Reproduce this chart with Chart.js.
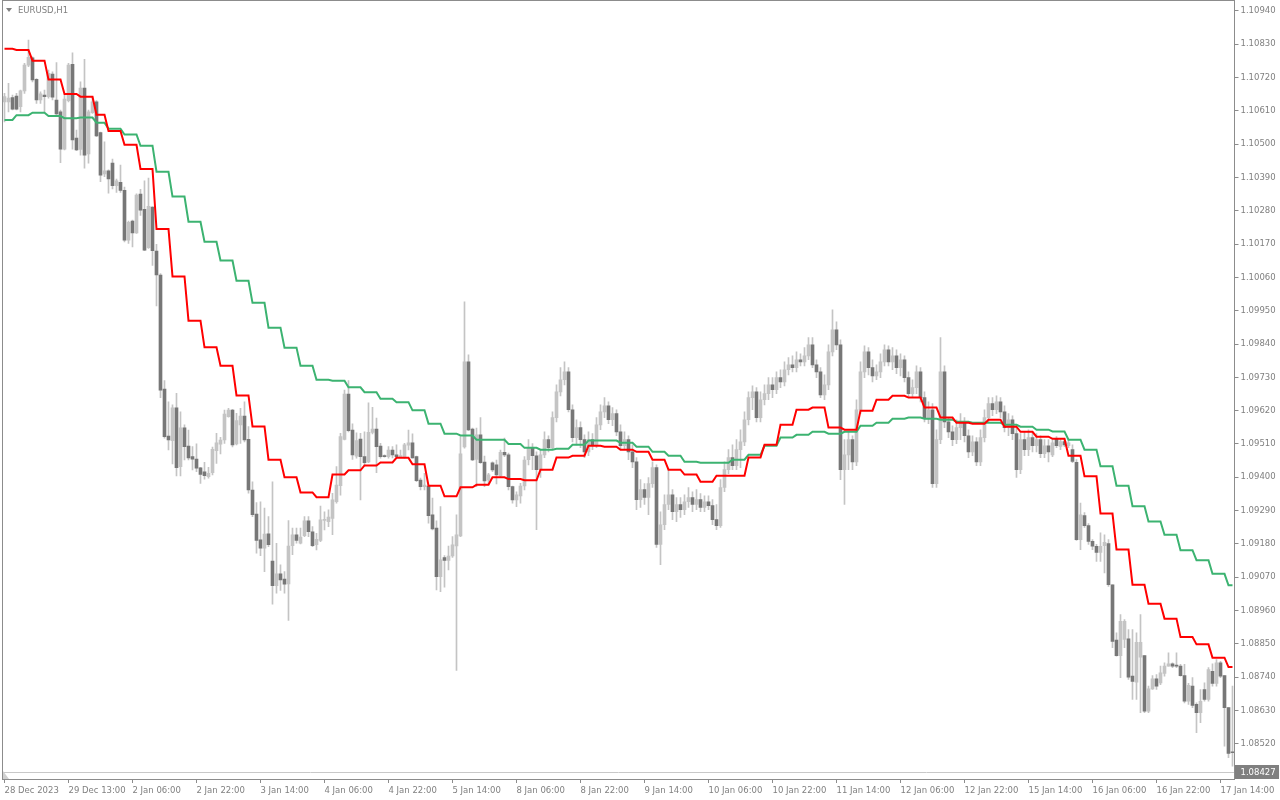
<!DOCTYPE html>
<html>
<head>
<meta charset="utf-8">
<title>EURUSD,H1</title>
<script src="https://cdn.jsdelivr.net/npm/chart.js@4.4.1/dist/chart.umd.min.js"></script>
<style>
  html, body { margin: 0; padding: 0; background: #ffffff; }
  canvas { display: block; }
</style>
</head>
<body>
<canvas id="chart" width="1280" height="800"></canvas>
<script>
var symbol = 'EURUSD,H1'
var bid = 1.08427

// one label every 16 hourly bars
var timeLabels = ['28 Dec 2023', '29 Dec 13:00', '2 Jan 06:00', '2 Jan 22:00', '3 Jan 14:00',
  '4 Jan 06:00', '4 Jan 22:00', '5 Jan 14:00', '8 Jan 06:00', '8 Jan 22:00', '9 Jan 14:00',
  '10 Jan 06:00', '10 Jan 22:00', '11 Jan 14:00', '12 Jan 06:00', '12 Jan 22:00', '15 Jan 14:00',
  '16 Jan 06:00', '16 Jan 22:00', '17 Jan 14:00']

var priceTicks = [1.10940, 1.10830, 1.10720, 1.10610, 1.10500, 1.10390, 1.10280, 1.10170,
  1.10060, 1.09950, 1.09840, 1.09730, 1.09620, 1.09510, 1.09400, 1.09290, 1.09180, 1.09070,
  1.08960, 1.08850, 1.08740, 1.08630, 1.08520, 1.08410]

var open = [
  1.10640, 1.10640, 1.10654, 1.10659, 1.10624, 1.10676, 1.10761, 1.10785, 1.10714, 1.10646, 1.10662, 1.10657, 1.10732, 1.10646, 1.10607, 1.10484,
  1.10644, 1.10764, 1.10520, 1.10483, 1.10685, 1.10468, 1.10604, 1.10640, 1.10538, 1.10402, 1.10412, 1.10438, 1.10363, 1.10374, 1.10348, 1.10183,
  1.10246, 1.10207, 1.10335, 1.10285, 1.10158, 1.10292, 1.10147, 1.10068, 1.09691, 1.09536, 1.09521, 1.09629, 1.09435, 1.09563, 1.09503, 1.09468,
  1.09460, 1.09431, 1.09418, 1.09402, 1.09415, 1.09488, 1.09509, 1.09523, 1.09600, 1.09622, 1.09510, 1.09573, 1.09602, 1.09525, 1.09358, 1.09278,
  1.09193, 1.09166, 1.09213, 1.09123, 1.09042, 1.09081, 1.09064, 1.09048, 1.09174, 1.09210, 1.09182, 1.09207, 1.09256, 1.09220, 1.09177, 1.09191,
  1.09257, 1.09253, 1.09264, 1.09319, 1.09372, 1.09525, 1.09675, 1.09556, 1.09470, 1.09526, 1.09468, 1.09451, 1.09548, 1.09559, 1.09503, 1.09470,
  1.09468, 1.09490, 1.09474, 1.09468, 1.09468, 1.09506, 1.09514, 1.09468, 1.09391, 1.09369, 1.09371, 1.09276, 1.09232, 1.09072, 1.09135, 1.09125,
  1.09140, 1.09173, 1.09206, 1.09500, 1.09781, 1.09559, 1.09459, 1.09540, 1.09450, 1.09391, 1.09448, 1.09441, 1.09405, 1.09482, 1.09474, 1.09369,
  1.09325, 1.09338, 1.09371, 1.09458, 1.09498, 1.09471, 1.09425, 1.09474, 1.09524, 1.09498, 1.09597, 1.09682, 1.09722, 1.09748, 1.09623, 1.09531,
  1.09564, 1.09524, 1.09484, 1.09524, 1.09504, 1.09573, 1.09616, 1.09636, 1.09590, 1.09610, 1.09550, 1.09504, 1.09524, 1.09484, 1.09451, 1.09326,
  1.09359, 1.09333, 1.09379, 1.09432, 1.09178, 1.09243, 1.09310, 1.09342, 1.09286, 1.09310, 1.09293, 1.09319, 1.09333, 1.09310, 1.09326, 1.09300,
  1.09319, 1.09306, 1.09260, 1.09240, 1.09366, 1.09425, 1.09465, 1.09438, 1.09491, 1.09517, 1.09590, 1.09663, 1.09682, 1.09597, 1.09656, 1.09676,
  1.09705, 1.09689, 1.09729, 1.09715, 1.09755, 1.09771, 1.09762, 1.09788, 1.09781, 1.09801, 1.09837, 1.09771, 1.09748, 1.09672, 1.09705, 1.09814,
  1.09887, 1.09837, 1.09425, 1.09474, 1.09524, 1.09451, 1.09623, 1.09748, 1.09814, 1.09762, 1.09735, 1.09748, 1.09781, 1.09821, 1.09781, 1.09801,
  1.09762, 1.09788, 1.09729, 1.09676, 1.09696, 1.09748, 1.09663, 1.09597, 1.09623, 1.09379, 1.09524, 1.09748, 1.09583, 1.09550, 1.09524, 1.09564,
  1.09583, 1.09537, 1.09484, 1.09517, 1.09451, 1.09531, 1.09597, 1.09643, 1.09623, 1.09649, 1.09616, 1.09564, 1.09590, 1.09544, 1.09425, 1.09524,
  1.09491, 1.09531, 1.09504, 1.09524, 1.09478, 1.09504, 1.09474, 1.09527, 1.09502, 1.09518, 1.09504, 1.09491, 1.09449, 1.09194, 1.09273, 1.09240,
  1.09188, 1.09172, 1.09152, 1.09174, 1.09181, 1.09045, 1.08862, 1.08811, 1.08864, 1.08866, 1.08743, 1.08723, 1.08806, 1.08811, 1.08627, 1.08701,
  1.08734, 1.08721, 1.08752, 1.08776, 1.08784, 1.08778, 1.08776, 1.08745, 1.08660, 1.08710, 1.08650, 1.08622, 1.08699, 1.08666, 1.08759, 1.08719,
  1.08787, 1.08745, 1.08639, 1.08493]

var high = [
  1.10668, 1.10701, 1.10662, 1.10668, 1.10679, 1.10767, 1.10844, 1.10789, 1.10717, 1.10673, 1.10679, 1.10745, 1.10739, 1.10770, 1.10613, 1.10662,
  1.10767, 1.10802, 1.10547, 1.10706, 1.10780, 1.10613, 1.10657, 1.10644, 1.10540, 1.10508, 1.10415, 1.10451, 1.10385, 1.10431, 1.10358, 1.10246,
  1.10249, 1.10336, 1.10351, 1.10379, 1.10388, 1.10293, 1.10169, 1.10073, 1.09719, 1.09649, 1.09639, 1.09677, 1.09616, 1.09573, 1.09556, 1.09501,
  1.09510, 1.09433, 1.09449, 1.09433, 1.09500, 1.09545, 1.09532, 1.09622, 1.09628, 1.09624, 1.09611, 1.09628, 1.09649, 1.09567, 1.09385, 1.09316,
  1.09319, 1.09298, 1.09270, 1.09385, 1.09182, 1.09111, 1.09088, 1.09257, 1.09232, 1.09232, 1.09232, 1.09270, 1.09270, 1.09237, 1.09215, 1.09305,
  1.09286, 1.09292, 1.09347, 1.09435, 1.09545, 1.09688, 1.09719, 1.09576, 1.09547, 1.09545, 1.09550, 1.09646, 1.09631, 1.09595, 1.09512, 1.09474,
  1.09501, 1.09501, 1.09507, 1.09490, 1.09512, 1.09556, 1.09543, 1.09470, 1.09397, 1.09413, 1.09372, 1.09331, 1.09256, 1.09303, 1.09141, 1.09173,
  1.09204, 1.09276, 1.09534, 1.09979, 1.09804, 1.09562, 1.09562, 1.09597, 1.09470, 1.09413, 1.09451, 1.09457, 1.09490, 1.09529, 1.09480, 1.09371,
  1.09352, 1.09380, 1.09468, 1.09524, 1.09511, 1.09484, 1.09491, 1.09550, 1.09537, 1.09616, 1.09705, 1.09762, 1.09781, 1.09762, 1.09639, 1.09590,
  1.09583, 1.09540, 1.09550, 1.09544, 1.09597, 1.09639, 1.09663, 1.09649, 1.09630, 1.09623, 1.09573, 1.09550, 1.09537, 1.09507, 1.09465, 1.09392,
  1.09379, 1.09399, 1.09451, 1.09441, 1.09286, 1.09342, 1.09425, 1.09359, 1.09333, 1.09333, 1.09342, 1.09366, 1.09352, 1.09359, 1.09346, 1.09339,
  1.09339, 1.09326, 1.09310, 1.09392, 1.09451, 1.09491, 1.09507, 1.09524, 1.09557, 1.09616, 1.09682, 1.09702, 1.09696, 1.09682, 1.09705, 1.09729,
  1.09729, 1.09748, 1.09755, 1.09781, 1.09795, 1.09801, 1.09814, 1.09808, 1.09828, 1.09861, 1.09861, 1.09788, 1.09762, 1.09738, 1.09837, 1.09953,
  1.09913, 1.09854, 1.09524, 1.09550, 1.09537, 1.09656, 1.09781, 1.09834, 1.09828, 1.09788, 1.09771, 1.09808, 1.09837, 1.09834, 1.09828, 1.09821,
  1.09808, 1.09801, 1.09748, 1.09722, 1.09768, 1.09762, 1.09682, 1.09649, 1.09643, 1.09557, 1.09861, 1.09768, 1.09597, 1.09570, 1.09590, 1.09610,
  1.09597, 1.09557, 1.09537, 1.09531, 1.09557, 1.09623, 1.09663, 1.09663, 1.09669, 1.09663, 1.09636, 1.09610, 1.09603, 1.09564, 1.09544, 1.09550,
  1.09557, 1.09550, 1.09544, 1.09537, 1.09524, 1.09524, 1.09524, 1.09534, 1.09527, 1.09527, 1.09524, 1.09507, 1.09458, 1.09315, 1.09283, 1.09247,
  1.09194, 1.09178, 1.09216, 1.09210, 1.09194, 1.09045, 1.08886, 1.08946, 1.08930, 1.08897, 1.08897, 1.08886, 1.08946, 1.08811, 1.08710, 1.08745,
  1.08748, 1.08776, 1.08787, 1.08820, 1.08787, 1.08820, 1.08782, 1.08782, 1.08719, 1.08738, 1.08655, 1.08699, 1.08721, 1.08771, 1.08784, 1.08798,
  1.08792, 1.08745, 1.08639, 1.08710]

var low = [
  1.10574, 1.10607, 1.10613, 1.10613, 1.10607, 1.10668, 1.10756, 1.10706, 1.10635, 1.10635, 1.10607, 1.10652, 1.10646, 1.10596, 1.10439, 1.10481,
  1.10640, 1.10484, 1.10479, 1.10464, 1.10421, 1.10437, 1.10602, 1.10525, 1.10376, 1.10393, 1.10338, 1.10352, 1.10341, 1.10341, 1.10177, 1.10172,
  1.10161, 1.10205, 1.10265, 1.10148, 1.10156, 1.10100, 1.09966, 1.09663, 1.09529, 1.09490, 1.09444, 1.09404, 1.09404, 1.09457, 1.09457, 1.09424,
  1.09418, 1.09380, 1.09394, 1.09397, 1.09408, 1.09446, 1.09477, 1.09512, 1.09598, 1.09500, 1.09507, 1.09512, 1.09517, 1.09347, 1.09270, 1.09149,
  1.09141, 1.09088, 1.09171, 1.08981, 1.09017, 1.09026, 1.09017, 1.08927, 1.09144, 1.09182, 1.09180, 1.09204, 1.09204, 1.09171, 1.09160, 1.09187,
  1.09226, 1.09237, 1.09210, 1.09314, 1.09341, 1.09523, 1.09550, 1.09459, 1.09463, 1.09325, 1.09437, 1.09448, 1.09543, 1.09415, 1.09463, 1.09466,
  1.09463, 1.09464, 1.09463, 1.09466, 1.09463, 1.09490, 1.09463, 1.09385, 1.09358, 1.09358, 1.09248, 1.09226, 1.09028, 1.09022, 1.09037, 1.09094,
  1.09135, 1.08762, 1.09204, 1.09496, 1.09554, 1.09455, 1.09369, 1.09446, 1.09369, 1.09380, 1.09418, 1.09378, 1.09402, 1.09468, 1.09358, 1.09314,
  1.09303, 1.09314, 1.09358, 1.09441, 1.09425, 1.09227, 1.09399, 1.09465, 1.09484, 1.09491, 1.09583, 1.09669, 1.09705, 1.09616, 1.09517, 1.09507,
  1.09498, 1.09465, 1.09471, 1.09491, 1.09498, 1.09557, 1.09597, 1.09577, 1.09570, 1.09537, 1.09491, 1.09491, 1.09458, 1.09432, 1.09293, 1.09300,
  1.09310, 1.09276, 1.09366, 1.09168, 1.09111, 1.09227, 1.09293, 1.09260, 1.09253, 1.09267, 1.09276, 1.09300, 1.09286, 1.09293, 1.09286, 1.09286,
  1.09293, 1.09243, 1.09227, 1.09234, 1.09352, 1.09412, 1.09425, 1.09425, 1.09432, 1.09504, 1.09573, 1.09623, 1.09583, 1.09583, 1.09639, 1.09656,
  1.09663, 1.09676, 1.09696, 1.09702, 1.09738, 1.09748, 1.09748, 1.09768, 1.09768, 1.09788, 1.09762, 1.09729, 1.09663, 1.09656, 1.09689, 1.09801,
  1.09821, 1.09392, 1.09310, 1.09425, 1.09425, 1.09438, 1.09610, 1.09729, 1.09738, 1.09715, 1.09722, 1.09729, 1.09768, 1.09768, 1.09755, 1.09742,
  1.09735, 1.09715, 1.09663, 1.09663, 1.09676, 1.09649, 1.09583, 1.09577, 1.09366, 1.09366, 1.09511, 1.09564, 1.09531, 1.09504, 1.09511, 1.09524,
  1.09517, 1.09465, 1.09471, 1.09438, 1.09438, 1.09517, 1.09583, 1.09603, 1.09610, 1.09597, 1.09550, 1.09537, 1.09524, 1.09399, 1.09412, 1.09471,
  1.09471, 1.09484, 1.09484, 1.09465, 1.09465, 1.09451, 1.09468, 1.09498, 1.09491, 1.09501, 1.09498, 1.09448, 1.09191, 1.09161, 1.09234, 1.09178,
  1.09161, 1.09122, 1.09122, 1.09084, 1.09039, 1.08837, 1.08809, 1.08738, 1.08837, 1.08732, 1.08666, 1.08666, 1.08622, 1.08622, 1.08622, 1.08699,
  1.08699, 1.08715, 1.08743, 1.08776, 1.08771, 1.08771, 1.08743, 1.08655, 1.08650, 1.08639, 1.08556, 1.08589, 1.08660, 1.08660, 1.08710, 1.08710,
  1.08738, 1.08512, 1.08474, 1.08446]

var close = [
  1.10657, 1.10652, 1.10616, 1.10616, 1.10676, 1.10761, 1.10787, 1.10712, 1.10646, 1.10666, 1.10657, 1.10734, 1.10655, 1.10600, 1.10484, 1.10649,
  1.10761, 1.10514, 1.10481, 1.10685, 1.10464, 1.10607, 1.10640, 1.10527, 1.10398, 1.10412, 1.10385, 1.10363, 1.10379, 1.10347, 1.10183, 1.10242,
  1.10207, 1.10332, 1.10282, 1.10150, 1.10295, 1.10148, 1.10068, 1.09688, 1.09534, 1.09523, 1.09629, 1.09432, 1.09563, 1.09501, 1.09464, 1.09460,
  1.09430, 1.09409, 1.09405, 1.09413, 1.09492, 1.09514, 1.09523, 1.09609, 1.09622, 1.09507, 1.09587, 1.09602, 1.09523, 1.09358, 1.09276, 1.09191,
  1.09166, 1.09212, 1.09177, 1.09042, 1.09081, 1.09061, 1.09047, 1.09173, 1.09210, 1.09191, 1.09202, 1.09256, 1.09220, 1.09174, 1.09195, 1.09259,
  1.09261, 1.09268, 1.09325, 1.09374, 1.09534, 1.09675, 1.09554, 1.09474, 1.09521, 1.09468, 1.09448, 1.09548, 1.09559, 1.09501, 1.09468, 1.09468,
  1.09490, 1.09474, 1.09468, 1.09470, 1.09507, 1.09514, 1.09464, 1.09389, 1.09369, 1.09374, 1.09273, 1.09229, 1.09072, 1.09127, 1.09125, 1.09140,
  1.09177, 1.09210, 1.09477, 1.09781, 1.09556, 1.09457, 1.09540, 1.09448, 1.09388, 1.09408, 1.09424, 1.09408, 1.09482, 1.09474, 1.09369, 1.09325,
  1.09342, 1.09371, 1.09457, 1.09498, 1.09471, 1.09425, 1.09474, 1.09524, 1.09498, 1.09597, 1.09682, 1.09722, 1.09748, 1.09623, 1.09531, 1.09564,
  1.09524, 1.09484, 1.09524, 1.09504, 1.09573, 1.09616, 1.09636, 1.09590, 1.09610, 1.09550, 1.09504, 1.09524, 1.09484, 1.09451, 1.09326, 1.09359,
  1.09333, 1.09379, 1.09432, 1.09178, 1.09243, 1.09310, 1.09342, 1.09286, 1.09310, 1.09293, 1.09319, 1.09333, 1.09310, 1.09326, 1.09300, 1.09319,
  1.09306, 1.09260, 1.09240, 1.09366, 1.09425, 1.09465, 1.09438, 1.09491, 1.09517, 1.09590, 1.09663, 1.09682, 1.09597, 1.09656, 1.09676, 1.09705,
  1.09689, 1.09729, 1.09715, 1.09755, 1.09771, 1.09762, 1.09788, 1.09781, 1.09801, 1.09837, 1.09771, 1.09748, 1.09672, 1.09705, 1.09814, 1.09887,
  1.09837, 1.09425, 1.09474, 1.09524, 1.09451, 1.09623, 1.09748, 1.09814, 1.09762, 1.09735, 1.09748, 1.09781, 1.09821, 1.09781, 1.09801, 1.09762,
  1.09788, 1.09729, 1.09676, 1.09696, 1.09748, 1.09663, 1.09597, 1.09623, 1.09379, 1.09524, 1.09748, 1.09583, 1.09550, 1.09524, 1.09564, 1.09583,
  1.09537, 1.09484, 1.09517, 1.09451, 1.09531, 1.09597, 1.09643, 1.09623, 1.09649, 1.09616, 1.09564, 1.09590, 1.09544, 1.09425, 1.09524, 1.09491,
  1.09531, 1.09504, 1.09524, 1.09478, 1.09504, 1.09484, 1.09514, 1.09504, 1.09518, 1.09507, 1.09514, 1.09452, 1.09194, 1.09276, 1.09240, 1.09188,
  1.09172, 1.09152, 1.09172, 1.09185, 1.09045, 1.08858, 1.08811, 1.08924, 1.08924, 1.08740, 1.08726, 1.08855, 1.08855, 1.08627, 1.08701, 1.08734,
  1.08710, 1.08754, 1.08776, 1.08784, 1.08776, 1.08776, 1.08745, 1.08660, 1.08713, 1.08646, 1.08622, 1.08660, 1.08666, 1.08765, 1.08719, 1.08787,
  1.08743, 1.08639, 1.08488, 1.08490]

// moving averages taken from the H4 chart, one value per H4 bar
var redH4 = [
  1.10815, 1.10811, 1.10776, 1.10714, 1.10666, 1.10657, 1.10597, 1.10544, 1.10498, 1.10418,
  1.10220, 1.10063, 1.09917, 1.09829, 1.09768, 1.09670, 1.09568, 1.09458, 1.09400, 1.09350,
  1.09334, 1.09409, 1.09423, 1.09439, 1.09449, 1.09464, 1.09443, 1.09372, 1.09337, 1.09367,
  1.09375, 1.09400, 1.09394, 1.09390, 1.09425, 1.09465, 1.09471, 1.09504, 1.09501, 1.09491,
  1.09484, 1.09458, 1.09425, 1.09409, 1.09385, 1.09405, 1.09405, 1.09465, 1.09507, 1.09573,
  1.09623, 1.09630, 1.09564, 1.09557, 1.09620, 1.09656, 1.09669, 1.09663, 1.09630, 1.09597,
  1.09580, 1.09577, 1.09590, 1.09567, 1.09550, 1.09534, 1.09527, 1.09471, 1.09403, 1.09280,
  1.09161, 1.09045, 1.08982, 1.08933, 1.08872, 1.08848, 1.08804, 1.08773]

var greenH4 = [
  1.10580, 1.10596, 1.10604, 1.10593, 1.10586, 1.10588, 1.10571, 1.10551, 1.10532, 1.10495,
  1.10409, 1.10327, 1.10244, 1.10178, 1.10116, 1.10049, 1.09976, 1.09894, 1.09828, 1.09768,
  1.09722, 1.09719, 1.09697, 1.09681, 1.09659, 1.09648, 1.09621, 1.09577, 1.09544, 1.09538,
  1.09524, 1.09524, 1.09510, 1.09497, 1.09491, 1.09494, 1.09507, 1.09521, 1.09521, 1.09514,
  1.09501, 1.09484, 1.09471, 1.09451, 1.09448, 1.09448, 1.09458, 1.09474, 1.09504, 1.09531,
  1.09540, 1.09550, 1.09544, 1.09550, 1.09570, 1.09580, 1.09593, 1.09597, 1.09593, 1.09590,
  1.09583, 1.09580, 1.09580, 1.09573, 1.09567, 1.09557, 1.09551, 1.09524, 1.09491, 1.09436,
  1.09372, 1.09304, 1.09254, 1.09210, 1.09159, 1.09126, 1.09081, 1.09043]

// hourly bars per H4 bar at the start (short bars around the year end), 4 afterwards
var h4Sizes = [3, 4, 4, 4, 4, 4, 3]

function hourly(h4) {
  var out = []
  for (var k = 0; k < h4.length; k++) {
    var n = k < h4Sizes.length ? h4Sizes[k] : 4
    for (var j = 0; j < n && out.length < open.length; j++) out.push(h4[k])
  }
  return out
}

var labels = open.map(function (v, i) { return i })
var upColor = '#c4c4c4'
var downColor = '#777777'
var axisFont = { family: 'DejaVu Sans', size: 8.5 }

// keep the plot area fixed: no extra room for overhanging tick labels
function noLabelPadding(s) {
  s.paddingTop = 0
  s.paddingBottom = 0
  s.paddingLeft = 0
  s.paddingRight = 0
}

var mt4Chrome = {
  id: 'mt4Chrome',
  beforeDatasetsDraw: function (chart) {
    var ctx = chart.ctx, a = chart.chartArea
    var y = Math.round(chart.scales.y.getPixelForValue(bid)) + 0.5
    ctx.save()
    ctx.strokeStyle = '#c8c8c8'
    ctx.lineWidth = 1
    ctx.beginPath()
    ctx.moveTo(a.left, y)
    ctx.lineTo(a.right, y)
    ctx.stroke()
    ctx.restore()
  },
  afterDraw: function (chart) {
    var ctx = chart.ctx, a = chart.chartArea
    ctx.save()
    // frame
    ctx.strokeStyle = '#8c8c8c'
    ctx.lineWidth = 1
    ctx.strokeRect(Math.floor(a.left) + 0.5, Math.floor(a.top) - 0.5, Math.floor(a.right) - Math.floor(a.left), Math.round(a.bottom) - Math.floor(a.top) + 1)
    // symbol caption
    ctx.fillStyle = '#808080'
    ctx.beginPath()
    ctx.moveTo(6, 8)
    ctx.lineTo(12, 8)
    ctx.lineTo(9, 12)
    ctx.closePath()
    ctx.fill()
    ctx.font = '8.5px "DejaVu Sans"'
    ctx.textBaseline = 'middle'
    ctx.textAlign = 'left'
    ctx.fillText(symbol, 18, 10.5)
    // small corner mark
    ctx.fillStyle = '#d0d0d0'
    ctx.beginPath()
    ctx.moveTo(3, 771)
    ctx.lineTo(3, a.bottom)
    ctx.lineTo(9, a.bottom)
    ctx.closePath()
    ctx.fill()
    // bid price box
    var y = chart.scales.y.getPixelForValue(bid)
    ctx.fillStyle = '#808080'
    ctx.fillRect(Math.floor(a.right) + 1, Math.round(y) - 7, chart.width - Math.floor(a.right) - 2, 14)
    ctx.fillStyle = '#ffffff'
    ctx.fillText(bid.toFixed(5), a.right + 6, Math.round(y) + 0.5)
    ctx.restore()
  }
}

var ctx = document.getElementById('chart').getContext('2d')
var chart = new Chart(ctx, {
  type: 'bar',
  data: {
    labels: labels,
    datasets: [
      {
        type: 'line',
        label: 'MA red',
        data: hourly(redH4),
        borderColor: '#ff0000',
        borderWidth: 2,
        pointRadius: 0,
        tension: 0,
        order: 0
      },
      {
        type: 'line',
        label: 'MA green',
        data: hourly(greenH4),
        borderColor: '#3cb371',
        borderWidth: 2,
        pointRadius: 0,
        tension: 0,
        order: 1
      },
      {
        label: 'body',
        data: open.map(function (o, i) { return [o, close[i]] }),
        backgroundColor: close.map(function (c, i) { return c >= open[i] ? upColor : downColor }),
        barThickness: 3,
        minBarLength: 1,
        grouped: false,
        order: 2
      },
      {
        label: 'wick',
        data: low.map(function (l, i) { return [l, high[i]] }),
        backgroundColor: upColor,
        barThickness: 1,
        grouped: false,
        order: 3
      }
    ]
  },
  options: {
    responsive: false,
    animation: false,
    devicePixelRatio: 1,
    layout: { padding: { left: 2.5, top: 1, right: 0, bottom: 0 } },
    plugins: {
      legend: { display: false },
      tooltip: { enabled: false }
    },
    scales: {
      x: {
        offset: true,
        grid: { offset: false, drawOnChartArea: false, tickLength: 4, color: '#8c8c8c' },
        border: { display: false },
        ticks: {
          autoSkip: false,
          maxRotation: 0,
          align: 'start',
          padding: 3,
          color: '#808080',
          font: axisFont,
          callback: function (v) { return timeLabels[v / 16] }
        },
        afterBuildTicks: function (s) {
          s.ticks = s.ticks.filter(function (t) { return t.value % 16 === 0 })
        },
        afterFit: function (s) {
          s.height = 21
          noLabelPadding(s)
        }
      },
      y: {
        position: 'right',
        min: 1.084033,
        max: 1.10973,
        grid: { drawOnChartArea: false, tickLength: 4, color: '#8c8c8c' },
        border: { display: false },
        ticks: {
          autoSkip: false,
          padding: 2,
          color: '#808080',
          font: axisFont,
          callback: function (v) { return v.toFixed(5) }
        },
        afterBuildTicks: function (s) {
          s.ticks = priceTicks.map(function (v) { return { value: v } })
        },
        afterFit: function (s) {
          s.width = 45.5
          noLabelPadding(s)
        }
      }
    }
  },
  plugins: [mt4Chrome]
})
</script>
</body>
</html>
